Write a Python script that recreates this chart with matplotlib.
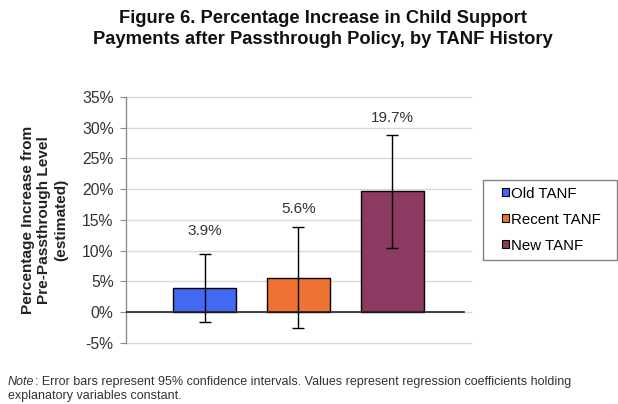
import matplotlib.pyplot as plt
from matplotlib.patches import Patch, Rectangle
from matplotlib.ticker import FuncFormatter

plt.rcParams['font.family'] = ['Liberation Sans', 'DejaVu Sans']

groups = ['Old TANF', 'Recent TANF', 'New TANF']
values = [3.9, 5.6, 19.7]
ci_low = [-1.6, -2.6, 10.4]
ci_high = [9.4, 13.8, 28.8]
colors = ['#4368f2', '#ee7232', '#8c3a61']
yticks = list(range(-5, 40, 5))


def main():
    fig = plt.figure(figsize=(6.18, 4.04), dpi=100)
    ax = fig.add_axes([0.204, 0.151, 0.558, 0.609])

    x = list(range(len(groups)))
    err = [[v - lo for v, lo in zip(values, ci_low)],
           [hi - v for v, hi in zip(values, ci_high)]]
    ax.bar(x, values, width=0.67, color=colors, edgecolor='black', linewidth=1.0, zorder=3)
    ax.errorbar(x, values, yerr=err, fmt='none', ecolor='black', elinewidth=1.0,
                capsize=4, capthick=1.0, zorder=4)

    # value labels sit above the upper confidence limit
    offsets = [17, 13, 12]
    for xi, v, hi, off in zip(x, values, ci_high, offsets):
        ax.annotate(f'{v:.1f}%', xy=(xi, hi), xytext=(0, off), textcoords='offset points',
                    ha='center', va='center', fontsize=11, color='#333333')

    ax.set_xlim(-0.835, 2.835)
    ax.set_ylim(-5, 35)
    ax.set_yticks(yticks)
    ax.yaxis.set_major_formatter(FuncFormatter(lambda v, p: f'{v:.0f}%'))
    ax.set_xticks([])
    ax.grid(axis='y', color='#d9d9d9', linewidth=1.0, zorder=0)
    for gl in ax.get_ygridlines():
        gl.set_clip_on(False)
    ax.axhline(0, xmin=0, xmax=0.98, color='#222222', linewidth=1.2, zorder=5)
    for s in ['top', 'right', 'bottom']:
        ax.spines[s].set_visible(False)
    ax.spines['left'].set_color('#8c8c8c')
    ax.spines['left'].set_linewidth(1.0)
    ax.tick_params(axis='y', direction='out', length=4, color='#8c8c8c',
                   labelsize=11.3, labelcolor='#333333', pad=5)

    ax.set_ylabel('Percentage Increase from\nPre-Passthrough Level\n(estimated)',
                  fontsize=11.1, fontweight='bold', color='#222222', labelpad=10,
                  linespacing=1.25)

    # legend entries without frame, box drawn separately
    handles = [Patch(facecolor=c, edgecolor='black', linewidth=0.8) for c in colors]
    fig.legend(handles, groups, loc='upper left', bbox_to_anchor=(0.812, 0.5376),
               fontsize=10.8, frameon=False, handlelength=0.45, handleheight=0.45,
               handletextpad=0.15, labelspacing=0.8, borderpad=0, borderaxespad=0)
    fig.add_artist(Rectangle((483 / 618, 1 - 260 / 404), 134 / 618, 80 / 404,
                             transform=fig.transFigure, facecolor='white',
                             edgecolor='#808080', linewidth=1.0, zorder=-1))

    fig.text(0.523, 0.975, 'Figure 6. Percentage Increase in Child Support\n'
             'Payments after Passthrough Policy, by TANF History',
             ha='center', va='top', fontsize=13.2, fontweight='bold',
             color='#111111', linespacing=1.3)

    note_y = 1 - 382 / 404
    note = fig.text(0.013, note_y, 'Note', fontsize=9, style='italic', color='#333333',
                    va='center')
    r = fig.canvas.get_renderer()
    bb = note.get_window_extent(r)
    fig.text(bb.x1 / fig.bbox.width, note_y, ': Error bars represent 95% confidence intervals. '
             'Values represent regression coefficients holding', fontsize=9,
             color='#333333', va='center')
    fig.text(0.013, 1 - 396 / 404, 'explanatory variables constant.', fontsize=9,
             color='#333333', va='center')

    fig.savefig('out.png', dpi=100)


if __name__ == '__main__':
    main()
